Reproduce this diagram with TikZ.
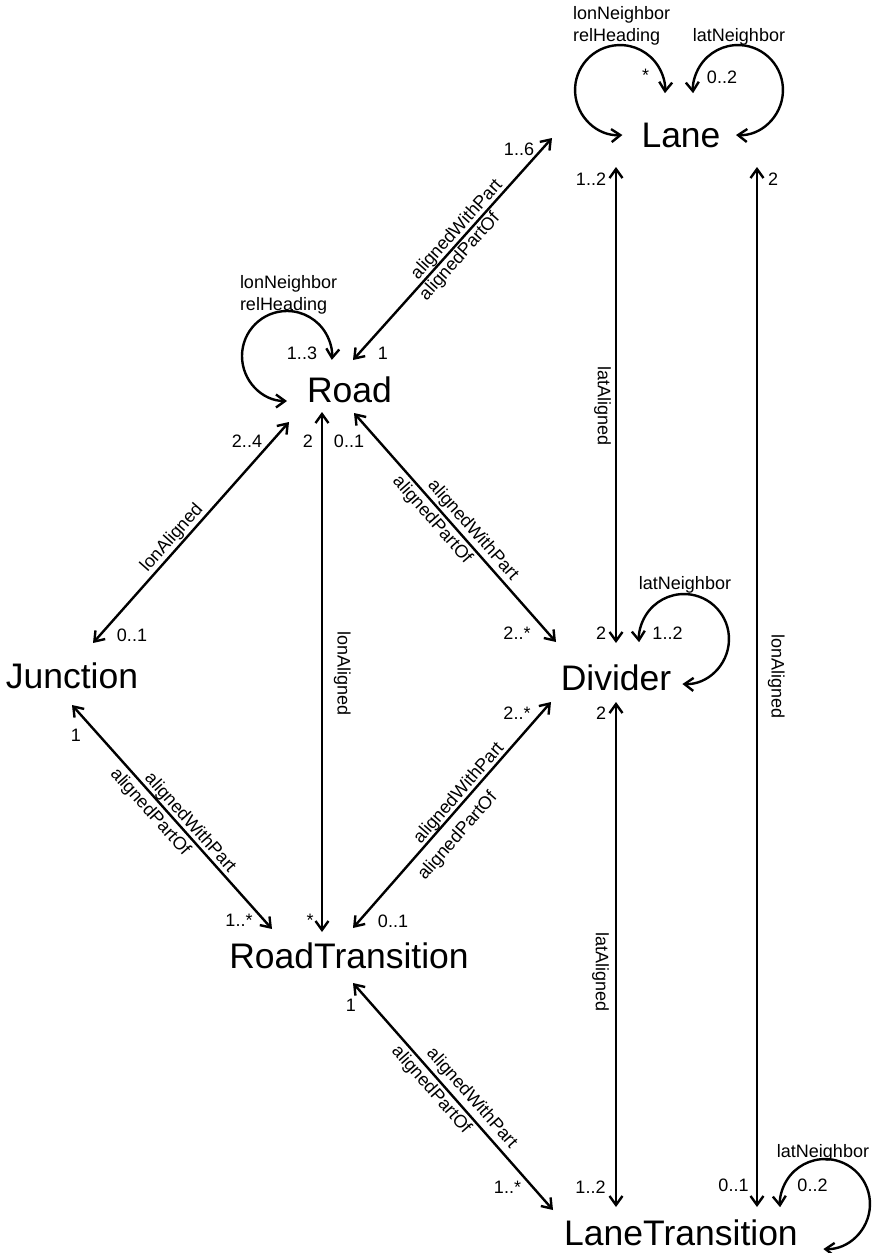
\documentclass[tikz,border=0pt]{standalone}
\usepackage{fontspec}
\setmainfont{Liberation Sans}
\usetikzlibrary{arrows.meta}

\begin{document}
\begin{tikzpicture}[
   x=1pt,y=1pt,
   cls/.style={inner sep=0pt,outer sep=0pt,anchor=base,
               font=\fontsize{35.5}{40}\selectfont},
   card/.style={inner sep=0pt,outer sep=0pt,anchor=base,
               font=\fontsize{18}{22.5}\selectfont},
   lbl/.style={inner sep=2pt,outer sep=0pt,font=\fontsize{18}{22.5}\selectfont},
   loopl/.style={inner sep=0pt,outer sep=0pt,align=left,anchor=north west,
               font=\fontsize{18}{22.5}\selectfont},
   rel/.style={{Straight Barb[length=9pt,width=13pt]}-{Straight Barb[length=9pt,width=13pt]},
               line width=2.4pt}
  ]
  \useasboundingbox (0,0) rectangle (882,-1253);

  % classes
  \node[cls] (lane)     at (681,-147)   {Lane};
  \node[cls] (road)     at (349.5,-402) {Road};
  \node[cls] (junction) at (72,-688)    {Junction};
  \node[cls] (divider)  at (616,-690)   {Divider};
  \node[cls] (roadtr)   at (349,-968)   {RoadTransition};
  \node[cls] (lanetr)   at (681,-1245)  {LaneTransition};

  % diagonal relations
  \draw[rel] ([shift={(3.5,42)}]road.base) --
     node[lbl,sloped,above,pos=0.558,inner sep=1pt]{alignedWithPart}
     node[lbl,sloped,below,pos=0.497,inner sep=2.5pt]{alignedPartOf}
     ([shift={(-129,9)}]lane.base);
  \draw[rel] ([shift={(21,45)}]junction.base) --
     node[lbl,sloped,above,pos=0.443,inner sep=2pt]{lonAligned}
     ([shift={(-60.5,-20)}]road.base);
  \draw[rel] ([shift={(4.5,-11)}]road.base) --
     node[lbl,sloped,above,pos=0.545,inner sep=3.3pt]{alignedWithPart}
     node[lbl,sloped,below,pos=0.432,inner sep=3.9pt]{alignedPartOf}
     ([shift={(-60,48)}]divider.base);
  \draw[rel] ([shift={(0,-17)}]junction.base) --
     node[lbl,sloped,above,pos=0.555,inner sep=1pt]{alignedWithPart}
     node[lbl,sloped,below,pos=0.44,inner sep=5pt]{alignedPartOf}
     ([shift={(-77,39)}]roadtr.base);
  \draw[rel] ([shift={(4,40)}]roadtr.base) --
     node[lbl,sloped,above,pos=0.57,inner sep=0.5pt]{alignedWithPart}
     node[lbl,sloped,below,pos=0.46,inner sep=10pt]{alignedPartOf}
     ([shift={(-65,-12)}]divider.base);
  \draw[rel] ([shift={(4,-15)}]roadtr.base) --
     node[lbl,sloped,above,pos=0.545,inner sep=4.5pt]{alignedWithPart}
     node[lbl,sloped,below,pos=0.436,inner sep=3.8pt]{alignedPartOf}
     ([shift={(-128,35)}]lanetr.base);

  % vertical relations
  \draw[rel] ([shift={(-27.5,-10)}]road.base) --
     node[lbl,rotate=-90,above,pos=0.502,inner sep=12pt]{lonAligned}
     ([shift={(-27,36)}]roadtr.base);
  \draw[rel] ([shift={(-65,-20)}]lane.base) --
     node[lbl,rotate=-90,below,pos=0.502,inner sep=5pt]{latAligned}
     ([shift={(0,47)}]divider.base);
  \draw[rel] ([shift={(0,-12)}]divider.base) --
     node[lbl,rotate=-90,below,pos=0.535,inner sep=7pt]{latAligned}
     ([shift={(-65,38)}]lanetr.base);
  \draw[rel] ([shift={(76,-20)}]lane.base) --
     node[lbl,rotate=-90,above,pos=0.49,inner sep=11pt]{lonAligned}
     ([shift={(76,38)}]lanetr.base);

  % self relations
  \draw[rel] ([shift={(-58.6,12)}]lane.base) arc[start angle=273,end angle=-4,radius=45];
  \draw[rel] ([shift={(55,12)}]lane.base) arc[start angle=267.5,end angle=544,radius=45];
  \draw[rel] ([shift={(-62.5,1)}]road.base) arc[start angle=270,end angle=-5,radius=45];
  \draw[rel] ([shift={(66.4,6)}]divider.base) arc[start angle=268,end angle=544,radius=45];
  \draw[rel] ([shift={(142.4,-4)}]lanetr.base) arc[start angle=268,end angle=544,radius=45];

  \node[loopl] (laneLon) at ([shift={(-108,141)}]lane.base) {lonNeighbor\\relHeading};
  \node[card] (laneLat) at ([shift={(58,105.5)}]lane.base) {latNeighbor};
  \node[loopl] (roadLon) at ([shift={(-109.5,127)}]road.base) {lonNeighbor\\relHeading};
  \node[card] (divLat) at ([shift={(69,101)}]divider.base) {latNeighbor};
  \node[card] (ltrLat) at ([shift={(142,87.5)}]lanetr.base) {latNeighbor};

  % multiplicities
  \node[card] (mLaneLon) at ([shift={(-35.5,66)}]lane.base) {*};
  \node[card] (mLaneLat) at ([shift={(41,63.7)}]lane.base) {0..2};
  \node[card] (mLaneRd)  at ([shift={(-162,-8)}]lane.base) {1..6};
  \node[card] (mLaneDv)  at ([shift={(-90,-38)}]lane.base) {1..2};
  \node[card] (mLaneLt)  at ([shift={(92,-38)}]lane.base) {2};

  \node[card] (mRdLon)  at ([shift={(-47.5,42.7)}]road.base) {1..3};
  \node[card] (mRdLane) at ([shift={(33.5,42.7)}]road.base) {1};
  \node[card] (mRdJn)   at ([shift={(-102.5,-45.5)}]road.base) {2..4};
  \node[card] (mRdRt)   at ([shift={(-41.5,-45.5)}]road.base) {2};
  \node[card] (mRdDv)   at ([shift={(-0.5,-45.5)}]road.base) {0..1};

  \node[card] (mJnRd) at ([shift={(60,47)}]junction.base) {0..1};
  \node[card] (mJnRt) at ([shift={(4,-53)}]junction.base) {1};

  \node[card] (mDvRd)  at ([shift={(-99,50.5)}]divider.base) {2..*};
  \node[card] (mDvLn)  at ([shift={(-15,50.5)}]divider.base) {2};
  \node[card] (mDvLat) at ([shift={(51.5,50.7)}]divider.base) {1..2};
  \node[card] (mDvRt)  at ([shift={(-99,-29.5)}]divider.base) {2..*};
  \node[card] (mDvLt)  at ([shift={(-15,-29.5)}]divider.base) {2};

  \node[card] (mRtJn) at ([shift={(-110,41.5)}]roadtr.base) {1..*};
  \node[card] (mRtRd) at ([shift={(-39,41.5)}]roadtr.base) {*};
  \node[card] (mRtDv) at ([shift={(44,41)}]roadtr.base) {0..1};
  \node[card] (mRtLt) at ([shift={(2,-43.5)}]roadtr.base) {1};

  \node[card] (mLtRt)  at ([shift={(-173.5,51.5)}]lanetr.base) {1..*};
  \node[card] (mLtDv)  at ([shift={(-90.5,52)}]lanetr.base) {1..2};
  \node[card] (mLtLn)  at ([shift={(52.5,53.5)}]lanetr.base) {0..1};
  \node[card] (mLtLat) at ([shift={(131.5,53.5)}]lanetr.base) {0..2};
\end{tikzpicture}
\end{document}
